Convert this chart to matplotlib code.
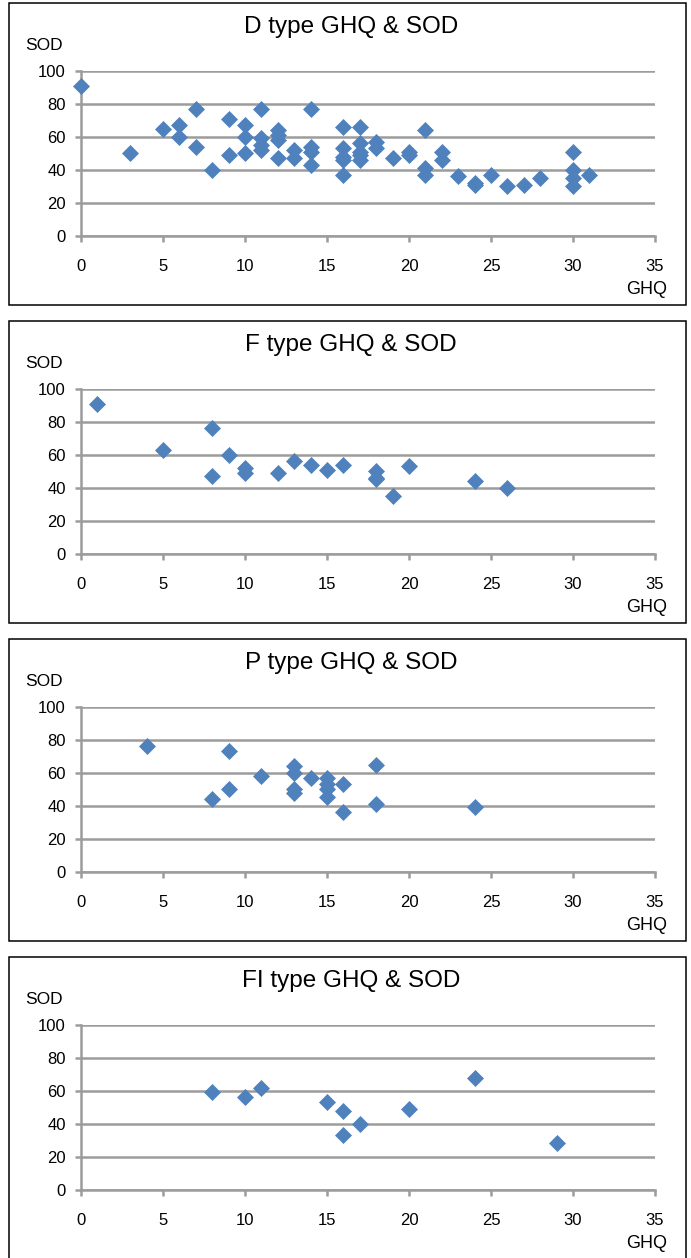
import matplotlib
matplotlib.use("Agg")
import matplotlib.pyplot as plt
from matplotlib.patches import Rectangle

# ================= DATA =================
TITLES = ["D type GHQ & SOD", "F type GHQ & SOD", "P type GHQ & SOD", "FI type GHQ & SOD"]

D_GHQ = [0, 3, 5, 6, 6, 7, 7, 8, 9, 9, 10, 10, 10, 11, 11, 11, 11, 12, 12, 12, 12,
         13, 13, 14, 14, 14, 14, 16, 16, 16, 16, 16, 17, 17, 17, 17, 17, 18, 18, 19,
         20, 20, 21, 21, 21, 22, 22, 23, 24, 24, 25, 26, 27, 28, 30, 30, 30, 30, 31]
D_SOD = [91, 50, 65, 67, 60, 77, 54, 40, 71, 49, 67, 60, 50, 77, 59, 55, 52, 64, 61, 58, 47,
         52, 47, 77, 54, 51, 43, 66, 53, 48, 46, 37, 66, 56, 51, 49, 46, 57, 53, 47,
         51, 49, 64, 41, 37, 51, 46, 36, 32, 31, 37, 30, 31, 35, 51, 40, 35, 30, 37]

F_GHQ = [1, 5, 8, 8, 9, 10, 10, 12, 13, 14, 15, 16, 18, 18, 18, 19, 20, 24, 26]
F_SOD = [91, 63, 76, 47, 60, 52, 49, 49, 56, 54, 51, 54, 50, 46, 45, 35, 53, 44, 40]

P_GHQ = [4, 8, 9, 9, 11, 13, 13, 13, 13, 14, 15, 15, 15, 15, 16, 16, 18, 18, 24]
P_SOD = [76, 44, 73, 50, 58, 64, 60, 50, 48, 57, 57, 53, 50, 45, 53, 36, 65, 41, 39]

FI_GHQ = [8, 10, 11, 15, 16, 16, 17, 20, 24, 29]
FI_SOD = [59, 56, 62, 53, 48, 33, 40, 49, 68, 28]

X_TICKS = [0, 5, 10, 15, 20, 25, 30, 35]
Y_TICKS = [0, 20, 40, 60, 80, 100]

# ================= STYLE =================
W, H = 691, 1258
BLUE = "#4F81BD"
GRID = "#9c9c9c"
plt.rcParams['font.family'] = ["Liberation Sans", 'DejaVu Sans']

fig = plt.figure(figsize=(W / 100, H / 100), dpi=100)

panels = [(D_GHQ, D_SOD), (F_GHQ, F_SOD), (P_GHQ, P_SOD), (FI_GHQ, FI_SOD)]

for i, (ghq, sod) in enumerate(panels):
    top = 3 + 318 * i          # box top in pixels
    box_h = 302

    # outer frame
    fig.patches.append(Rectangle((9 / W, 1 - (top + box_h) / H), 677 / W, box_h / H,
                                 transform=fig.transFigure, fill=False,
                                 ec="black", lw=1.1))

    ax_top = top + 68
    ax_bot = top + 232.5
    ax = fig.add_axes([81 / W, 1 - ax_bot / H, 574 / W, (ax_bot - ax_top) / H])
    ax.plot(ghq, sod, linestyle="none", marker="D", ms=8.2, color=BLUE,
            mec=BLUE, mew=0.5, clip_on=False, zorder=3)

    ax.set_xlim(0, 35)
    ax.set_ylim(0, 100)
    ax.set_xticks(X_TICKS)
    ax.set_yticks(Y_TICKS)
    ax.yaxis.grid(True, color=GRID, lw=1.8)
    ax.set_axisbelow(True)
    for s in ["top", "right"]:
        ax.spines[s].set_visible(False)
    for s in ["left", "bottom"]:
        ax.spines[s].set_color(GRID)
        ax.spines[s].set_linewidth(1.8)
    ax.tick_params(axis="both", direction="out", length=4, width=1.8, color=GRID,
                   labelsize=12, labelcolor="black")
    ax.tick_params(axis="x", pad=13)
    ax.tick_params(axis="y", pad=7)

    fig.text(351 / W, 1 - (top + 24) / H, TITLES[i], ha="center", va="center",
             fontsize=17.5)
    fig.text(25 / W, 1 - (top + 42) / H, "SOD", ha="left", va="center", fontsize=12.5)
    fig.text(667 / W, 1 - (top + 287) / H, "GHQ", ha="right", va="center", fontsize=13)

fig.savefig("out.png", dpi=100)
